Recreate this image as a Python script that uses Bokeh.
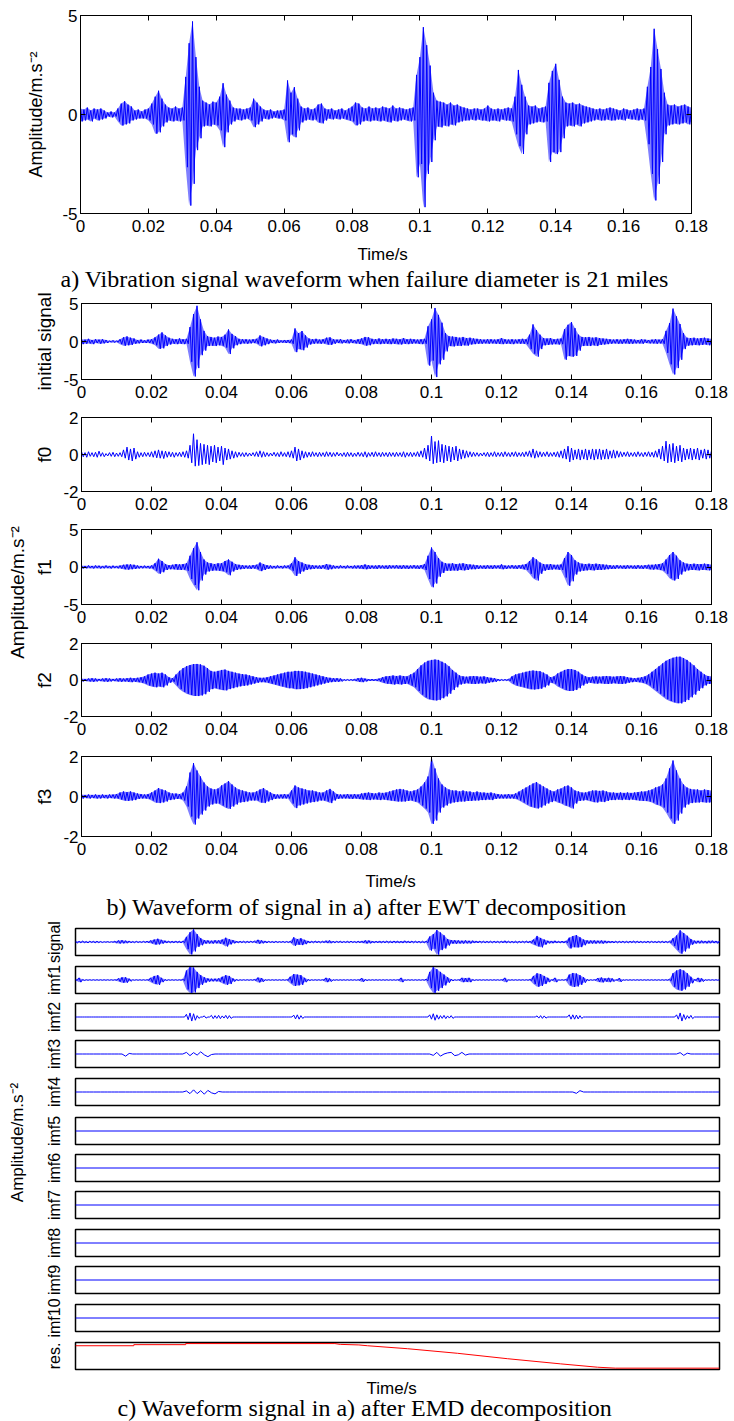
import math
from bokeh.plotting import figure
from bokeh.models import LinearAxis, FixedTicker, Range1d, ColumnDataSource
from bokeh.layouts import column, row
from bokeh.core.properties import value
from bokeh.embed import file_html
from bokeh.resources import INLINE

# ---------------- data (1 ms sample grid) ----------------
T_MS = list(range(181))
X_TICKS = [0, 0.02, 0.04, 0.06, 0.08, 0.1, 0.12, 0.14, 0.16, 0.18]
X_TICK_LABELS = ["0", "0.02", "0.04", "0.06", "0.08", "0.1", "0.12", "0.14", "0.16", "0.18"]

# original vibration signal: upper / lower envelope per 1 ms
sig_hi = [0.3, 0.25, 0.35, 0.2, 0.3, 0.25, 0.3, 0.2, 0.1, 0.15,
          0.1, 0.3, 0.55, 0.67, 0.5, 0.4, 0.2, 0.25, 0.15, 0.25,
          0.3, 0.55, 0.9, 1.2, 0.8, 0.5, 0.35, 0.3, 0.4, 0.3,
          0.35, 1.9, 3.6, 4.7, 2.9, 1.4, 0.7, 0.6, 0.5, 0.65,
          0.6, 0.9, 1.58, 1.0, 0.7, 0.35, 0.3, 0.3, 0.25, 0.3,
          0.35, 0.8, 0.6, 0.4, 0.25, 0.2, 0.25, 0.15, 0.2, 0.2,
          0.25, 1.72, 1.1, 1.38, 0.8, 0.4, 0.3, 0.35, 0.25, 0.3,
          0.5, 0.55, 0.3, 0.25, 0.3, 0.2, 0.25, 0.3, 0.2, 0.3,
          0.4, 0.6, 0.55, 0.35, 0.3, 0.4, 0.3, 0.35, 0.3, 0.4,
          0.35, 0.3, 0.45, 0.3, 0.35, 0.3, 0.25, 0.3, 0.35, 2.0,
          2.9, 4.41, 3.5, 2.47, 1.1, 0.7, 0.65, 0.6, 0.5, 0.6,
          0.45, 0.5, 0.4, 0.35, 0.3, 0.25, 0.3, 0.3, 0.25, 0.3,
          0.45, 0.3, 0.25, 0.3, 0.25, 0.3, 0.35, 0.3, 0.9, 2.25,
          1.5, 0.9, 0.45, 0.4, 0.45, 0.3, 0.35, 0.4, 1.6, 2.2,
          2.56, 1.75, 0.9, 0.6, 0.55, 0.6, 0.5, 0.55, 0.45, 0.4,
          0.35, 0.3, 0.25, 0.3, 0.25, 0.3, 0.35, 0.3, 0.25, 0.2,
          0.3, 0.25, 0.2, 0.25, 0.3, 0.25, 0.3, 1.4, 2.4, 4.33,
          3.3, 2.3, 1.1, 0.5, 0.45, 0.5, 0.4, 0.45, 0.5, 0.4,
          0.35]
sig_lo = [-0.35, -0.3, -0.25, -0.35, -0.2, -0.3, -0.25, -0.2, -0.1, -0.15,
          -0.1, -0.35, -0.56, -0.5, -0.45, -0.3, -0.25, -0.2, -0.2, -0.2,
          -0.3, -0.5, -0.97, -0.9, -0.6, -0.4, -0.3, -0.35, -0.3, -0.35,
          -0.3, -2.66, -4.6, -3.5, -1.8, -1.2, -0.6, -0.55, -0.6, -0.5,
          -0.55, -0.8, -1.65, -0.9, -0.5, -0.35, -0.25, -0.3, -0.25, -0.2,
          -0.3, -0.64, -0.5, -0.35, -0.2, -0.25, -0.2, -0.15, -0.2, -0.2,
          -0.3, -1.4, -1.0, -1.15, -0.8, -0.4, -0.3, -0.25, -0.3, -0.25,
          -0.4, -0.45, -0.3, -0.2, -0.25, -0.2, -0.25, -0.2, -0.25, -0.3,
          -0.35, -0.55, -0.5, -0.35, -0.3, -0.35, -0.3, -0.3, -0.35, -0.3,
          -0.35, -0.4, -0.3, -0.35, -0.3, -0.25, -0.3, -0.35, -0.3, -3.17,
          -2.5, -4.68, -3.0, -2.4, -1.3, -0.6, -0.65, -0.55, -0.6, -0.5,
          -0.55, -0.4, -0.35, -0.3, -0.3, -0.25, -0.3, -0.25, -0.3, -0.3,
          -0.35, -0.3, -0.3, -0.35, -0.25, -0.3, -0.3, -0.35, -1.0, -1.6,
          -1.99, -1.0, -0.5, -0.45, -0.4, -0.35, -0.4, -0.35, -2.4, -1.9,
          -2.0, -1.9, -1.2, -0.6, -0.55, -0.6, -0.5, -0.6, -0.45, -0.4,
          -0.35, -0.3, -0.25, -0.3, -0.3, -0.25, -0.3, -0.3, -0.25, -0.25,
          -0.3, -0.2, -0.25, -0.25, -0.3, -0.25, -0.3, -1.5, -3.0, -4.34,
          -3.5, -2.4, -1.0, -0.55, -0.5, -0.45, -0.5, -0.45, -0.4, -0.5,
          -0.35]

# EWT component f0
f0_hi = [0.15, 0.1, 0.15, 0.1, 0.12, 0.18, 0.1, 0.05, 0.1, 0.12,
         0.08, 0.1, 0.25, 0.4, 0.3, 0.35, 0.15, 0.1, 0.12, 0.1,
         0.15, 0.2, 0.25, 0.2, 0.18, 0.15, 0.12, 0.1, 0.12, 0.15,
         0.2, 0.5, 1.12, 0.8, 0.6, 0.55, 0.5, 0.45, 0.5, 0.4,
         0.45, 0.35, 0.3, 0.2, 0.15, 0.12, 0.1, 0.1, 0.08, 0.1,
         0.15, 0.2, 0.15, 0.1, 0.08, 0.12, 0.1, 0.15, 0.1, 0.15,
         0.2, 0.4, 0.3, 0.2, 0.15, 0.12, 0.15, 0.1, 0.12, 0.1,
         0.15, 0.12, 0.1, 0.12, 0.08, 0.1, 0.12, 0.1, 0.08, 0.12,
         0.1, 0.15, 0.1, 0.12, 0.15, 0.1, 0.12, 0.1, 0.12, 0.1,
         0.12, 0.1, 0.15, 0.1, 0.12, 0.1, 0.15, 0.2, 0.35, 0.5,
         1.0, 0.7, 0.75, 0.55, 0.5, 0.45, 0.4, 0.45, 0.3, 0.25,
         0.2, 0.15, 0.12, 0.1, 0.08, 0.1, 0.12, 0.1, 0.15, 0.1,
         0.12, 0.15, 0.1, 0.12, 0.15, 0.1, 0.12, 0.15, 0.2, 0.3,
         0.2, 0.15, 0.12, 0.15, 0.1, 0.12, 0.15, 0.2, 0.3, 0.45,
         0.35, 0.25, 0.3, 0.25, 0.3, 0.25, 0.3, 0.28, 0.3, 0.25,
         0.3, 0.2, 0.25, 0.2, 0.15, 0.12, 0.15, 0.1, 0.12, 0.15,
         0.1, 0.12, 0.15, 0.12, 0.2, 0.3, 0.45, 0.72, 0.55, 0.6,
         0.45, 0.5, 0.35, 0.3, 0.35, 0.3, 0.35, 0.25, 0.3, 0.25,
         0.2]
f0_lo = [-0.12, -0.15, -0.1, -0.12, -0.15, -0.1, -0.12, -0.08, -0.1, -0.12,
         -0.1, -0.12, -0.2, -0.3, -0.35, -0.25, -0.15, -0.12, -0.1, -0.12,
         -0.15, -0.18, -0.2, -0.22, -0.15, -0.12, -0.15, -0.1, -0.12, -0.15,
         -0.2, -0.45, -0.63, -0.6, -0.55, -0.5, -0.55, -0.4, -0.45, -0.35,
         -0.55, -0.3, -0.25, -0.2, -0.15, -0.1, -0.12, -0.1, -0.08, -0.1,
         -0.12, -0.15, -0.12, -0.1, -0.08, -0.1, -0.12, -0.1, -0.12, -0.15,
         -0.2, -0.35, -0.3, -0.2, -0.15, -0.12, -0.1, -0.12, -0.1, -0.12,
         -0.1, -0.12, -0.1, -0.08, -0.1, -0.12, -0.1, -0.12, -0.1, -0.1,
         -0.12, -0.15, -0.1, -0.12, -0.1, -0.12, -0.1, -0.12, -0.1, -0.12,
         -0.1, -0.12, -0.15, -0.1, -0.12, -0.1, -0.12, -0.15, -0.25, -0.35,
         -0.5, -0.45, -0.4, -0.45, -0.35, -0.4, -0.3, -0.35, -0.25, -0.2,
         -0.15, -0.12, -0.1, -0.1, -0.08, -0.1, -0.12, -0.1, -0.12, -0.1,
         -0.12, -0.1, -0.12, -0.1, -0.12, -0.1, -0.12, -0.1, -0.15, -0.2,
         -0.15, -0.12, -0.1, -0.12, -0.1, -0.12, -0.15, -0.2, -0.25, -0.4,
         -0.3, -0.25, -0.3, -0.25, -0.3, -0.25, -0.3, -0.25, -0.28, -0.25,
         -0.25, -0.2, -0.2, -0.15, -0.12, -0.1, -0.12, -0.1, -0.12, -0.1,
         -0.12, -0.1, -0.12, -0.15, -0.15, -0.25, -0.35, -0.45, -0.4, -0.45,
         -0.35, -0.4, -0.3, -0.25, -0.3, -0.25, -0.3, -0.2, -0.25, -0.2,
         -0.15]

# EWT component f1
f1_hi = [0.2, 0.15, 0.2, 0.15, 0.2, 0.18, 0.15, 0.2, 0.15, 0.18,
         0.15, 0.2, 0.3, 0.35, 0.35, 0.3, 0.2, 0.15, 0.18, 0.15,
         0.2, 0.5, 1.1, 0.8, 0.4, 0.25, 0.3, 0.4, 0.35, 0.4,
         0.5, 1.5, 2.5, 3.3, 2.0, 1.0, 0.6, 0.5, 0.4, 0.5,
         0.5, 0.8, 1.0, 0.7, 0.4, 0.3, 0.25, 0.2, 0.2, 0.25,
         0.3, 0.6, 0.4, 0.25, 0.2, 0.15, 0.2, 0.15, 0.2, 0.2,
         0.5, 1.3, 0.8, 0.6, 0.4, 0.3, 0.25, 0.2, 0.2, 0.25,
         0.4, 0.3, 0.2, 0.15, 0.2, 0.15, 0.2, 0.15, 0.2, 0.2,
         0.25, 0.35, 0.25, 0.2, 0.2, 0.25, 0.2, 0.2, 0.25, 0.2,
         0.25, 0.2, 0.25, 0.2, 0.2, 0.25, 0.2, 0.25, 0.4, 1.5,
         2.6, 2.0, 1.2, 0.7, 0.5, 0.45, 0.5, 0.4, 0.45, 0.5,
         0.4, 0.35, 0.3, 0.25, 0.2, 0.2, 0.25, 0.2, 0.25, 0.2,
         0.35, 0.2, 0.2, 0.25, 0.2, 0.25, 0.3, 0.4, 0.8, 1.3,
         1.0, 0.6, 0.4, 0.35, 0.4, 0.3, 0.3, 0.35, 1.2, 2.0,
         1.6, 0.9, 0.6, 0.45, 0.4, 0.45, 0.4, 0.45, 0.4, 0.35,
         0.3, 0.25, 0.2, 0.25, 0.2, 0.2, 0.25, 0.2, 0.2, 0.25,
         0.2, 0.25, 0.3, 0.3, 0.35, 0.4, 0.5, 1.0, 1.6, 2.0,
         1.5, 0.9, 0.6, 0.45, 0.4, 0.45, 0.4, 0.4, 0.45, 0.4,
         0.35]
f1_lo = [-0.2, -0.18, -0.15, -0.2, -0.15, -0.2, -0.18, -0.15, -0.2, -0.15,
         -0.18, -0.2, -0.3, -0.35, -0.3, -0.25, -0.2, -0.18, -0.15, -0.2,
         -0.2, -0.5, -0.9, -0.7, -0.4, -0.3, -0.3, -0.35, -0.4, -0.35,
         -0.5, -1.6, -2.4, -3.1, -1.8, -1.0, -0.6, -0.5, -0.45, -0.5,
         -0.55, -0.7, -1.1, -0.6, -0.4, -0.3, -0.25, -0.2, -0.25, -0.2,
         -0.3, -0.55, -0.4, -0.25, -0.2, -0.2, -0.15, -0.2, -0.15, -0.2,
         -0.5, -1.2, -0.9, -0.6, -0.4, -0.3, -0.25, -0.2, -0.25, -0.2,
         -0.35, -0.3, -0.2, -0.2, -0.15, -0.2, -0.15, -0.2, -0.2, -0.2,
         -0.25, -0.3, -0.25, -0.2, -0.25, -0.2, -0.2, -0.25, -0.2, -0.2,
         -0.2, -0.25, -0.2, -0.25, -0.2, -0.2, -0.25, -0.2, -0.4, -1.6,
         -2.7, -2.2, -1.3, -0.8, -0.5, -0.5, -0.45, -0.5, -0.4, -0.45,
         -0.4, -0.3, -0.3, -0.25, -0.2, -0.25, -0.2, -0.25, -0.2, -0.2,
         -0.3, -0.25, -0.2, -0.2, -0.25, -0.2, -0.3, -0.4, -0.9, -1.5,
         -1.8, -0.9, -0.5, -0.4, -0.35, -0.3, -0.35, -0.4, -1.4, -2.5,
         -1.9, -1.0, -0.6, -0.5, -0.45, -0.4, -0.45, -0.4, -0.4, -0.35,
         -0.3, -0.25, -0.25, -0.2, -0.2, -0.25, -0.2, -0.2, -0.25, -0.2,
         -0.25, -0.2, -0.3, -0.35, -0.3, -0.4, -0.5, -0.9, -1.5, -1.8,
         -1.6, -1.0, -0.6, -0.45, -0.4, -0.4, -0.45, -0.4, -0.4, -0.45,
         -0.35]

# EWT component f2 (symmetric envelope)
f2_amp = [0.08, 0.06, 0.08, 0.1, 0.08, 0.06, 0.08, 0.1, 0.08, 0.06,
          0.08, 0.1, 0.08, 0.1, 0.12, 0.1, 0.12, 0.15, 0.2, 0.3,
          0.35, 0.4, 0.35, 0.4, 0.3, 0.15, 0.1, 0.3, 0.5, 0.65,
          0.75, 0.82, 0.87, 0.88, 0.85, 0.78, 0.65, 0.5, 0.45, 0.5,
          0.55, 0.57, 0.5, 0.45, 0.4, 0.35, 0.32, 0.3, 0.25, 0.2,
          0.15, 0.12, 0.12, 0.15, 0.2, 0.25, 0.3, 0.35, 0.4, 0.45,
          0.45, 0.5, 0.5, 0.48, 0.45, 0.4, 0.35, 0.3, 0.25, 0.2,
          0.15, 0.12, 0.1, 0.1, 0.08, 0.03, 0.03, 0.03, 0.05, 0.1,
          0.12, 0.08, 0.05, 0.05, 0.05, 0.08, 0.15, 0.2, 0.22, 0.25,
          0.22, 0.25, 0.22, 0.2, 0.3, 0.4, 0.6, 0.8, 0.95, 1.05,
          1.1, 1.12, 1.1, 1.0, 0.9, 0.75, 0.55, 0.4, 0.25, 0.2,
          0.18, 0.2, 0.22, 0.2, 0.18, 0.2, 0.15, 0.12, 0.1, 0.05,
          0.03, 0.03, 0.05, 0.2, 0.3, 0.35, 0.4, 0.45, 0.5, 0.52,
          0.5, 0.48, 0.4, 0.3, 0.15, 0.2, 0.35, 0.45, 0.55, 0.6,
          0.6, 0.55, 0.45, 0.3, 0.2, 0.15, 0.18, 0.2, 0.18, 0.2,
          0.22, 0.2, 0.18, 0.2, 0.22, 0.2, 0.15, 0.12, 0.1, 0.12,
          0.15, 0.2, 0.3, 0.45, 0.6, 0.75, 0.9, 1.05, 1.15, 1.22,
          1.27, 1.28, 1.2, 1.1, 0.95, 0.8, 0.6, 0.45, 0.3, 0.22,
          0.2]

# EWT component f3
f3_hi = [0.1, 0.08, 0.1, 0.08, 0.1, 0.08, 0.1, 0.08, 0.1, 0.1,
         0.12, 0.2, 0.25, 0.22, 0.25, 0.2, 0.15, 0.12, 0.1, 0.12,
         0.2, 0.3, 0.42, 0.35, 0.3, 0.2, 0.15, 0.15, 0.12, 0.2,
         0.5, 1.2, 1.67, 1.3, 1.0, 0.7, 0.5, 0.4, 0.35, 0.4,
         0.55, 0.65, 0.77, 0.6, 0.45, 0.35, 0.3, 0.25, 0.2, 0.2,
         0.25, 0.35, 0.42, 0.3, 0.2, 0.12, 0.1, 0.1, 0.12, 0.1,
         0.3, 0.55, 0.45, 0.4, 0.35, 0.3, 0.3, 0.25, 0.2, 0.2,
         0.3, 0.38, 0.25, 0.12, 0.1, 0.1, 0.12, 0.1, 0.12, 0.1,
         0.15, 0.18, 0.2, 0.17, 0.15, 0.2, 0.18, 0.2, 0.25, 0.3,
         0.35, 0.38, 0.35, 0.3, 0.25, 0.3, 0.35, 0.5, 0.7, 1.0,
         1.97, 1.4, 0.9, 0.6, 0.45, 0.35, 0.3, 0.3, 0.25, 0.3,
         0.25, 0.25, 0.2, 0.25, 0.2, 0.2, 0.18, 0.2, 0.15, 0.12,
         0.1, 0.1, 0.12, 0.1, 0.15, 0.25, 0.35, 0.45, 0.55, 0.65,
         0.72, 0.6, 0.5, 0.4, 0.3, 0.25, 0.35, 0.4, 0.5, 0.55,
         0.45, 0.3, 0.25, 0.2, 0.2, 0.25, 0.3, 0.3, 0.28, 0.3,
         0.25, 0.2, 0.2, 0.18, 0.2, 0.18, 0.2, 0.18, 0.2, 0.22,
         0.25, 0.25, 0.3, 0.35, 0.45, 0.5, 0.6, 0.9, 1.4, 1.8,
         1.3, 0.9, 0.6, 0.45, 0.38, 0.35, 0.35, 0.3, 0.35, 0.32,
         0.3]
f3_lo = [-0.1, -0.08, -0.1, -0.08, -0.1, -0.1, -0.08, -0.1, -0.08, -0.1,
         -0.1, -0.15, -0.2, -0.22, -0.2, -0.18, -0.12, -0.1, -0.1, -0.12,
         -0.2, -0.3, -0.33, -0.3, -0.25, -0.18, -0.15, -0.12, -0.12, -0.2,
         -0.5, -1.0, -1.4, -1.1, -0.9, -0.7, -0.5, -0.4, -0.35, -0.35,
         -0.45, -0.55, -0.62, -0.5, -0.4, -0.3, -0.28, -0.25, -0.2, -0.2,
         -0.2, -0.3, -0.33, -0.25, -0.18, -0.12, -0.1, -0.1, -0.1, -0.1,
         -0.35, -0.58, -0.45, -0.4, -0.35, -0.3, -0.28, -0.25, -0.2, -0.2,
         -0.25, -0.33, -0.2, -0.12, -0.1, -0.1, -0.1, -0.12, -0.1, -0.12,
         -0.15, -0.15, -0.18, -0.15, -0.15, -0.18, -0.15, -0.18, -0.2, -0.22,
         -0.25, -0.25, -0.25, -0.22, -0.2, -0.25, -0.3, -0.45, -0.6, -0.8,
         -1.37, -1.2, -0.8, -0.55, -0.45, -0.35, -0.3, -0.28, -0.25, -0.25,
         -0.22, -0.22, -0.2, -0.2, -0.18, -0.18, -0.15, -0.18, -0.12, -0.1,
         -0.1, -0.1, -0.1, -0.1, -0.12, -0.2, -0.3, -0.4, -0.5, -0.55,
         -0.6, -0.55, -0.45, -0.35, -0.28, -0.22, -0.3, -0.35, -0.45, -0.5,
         -0.6, -0.35, -0.22, -0.2, -0.18, -0.22, -0.28, -0.3, -0.25, -0.28,
         -0.22, -0.18, -0.18, -0.15, -0.18, -0.15, -0.18, -0.15, -0.18, -0.2,
         -0.22, -0.22, -0.25, -0.3, -0.4, -0.45, -0.55, -0.8, -1.1, -1.37,
         -1.2, -0.85, -0.55, -0.4, -0.33, -0.3, -0.3, -0.28, -0.3, -0.3,
         -0.28]

# EMD components (panel c)
imf1_amp = [0.1, 0.8, 0.2, 0.1, 0.1, 0.1, 0.1, 0.1, 0.1, 0.1,
            0.1, 0.1, 0.6, 1.0, 1.0, 0.5, 0.1, 0.1, 0.1, 0.1,
            0.1, 0.8, 1.5, 1.8, 0.8, 0.2, 0.1, 0.1, 0.1, 0.1,
            0.3, 3.5, 4.8, 4.6, 3.0, 1.8, 1.0, 0.6, 0.5, 0.5,
            0.6, 1.2, 1.8, 1.5, 0.6, 0.2, 0.1, 0.1, 0.1, 0.1,
            0.2, 0.9, 0.7, 0.1, 0.1, 0.1, 0.1, 0.1, 0.1, 0.1,
            1.2, 2.2, 2.0, 1.8, 0.8, 0.2, 0.1, 0.1, 0.1, 0.1,
            0.8, 0.6, 0.1, 0.1, 0.1, 0.1, 0.1, 0.1, 0.1, 0.1,
            0.7, 0.2, 0.1, 0.1, 0.1, 0.1, 0.1, 0.1, 0.1, 0.1,
            0.1, 0.8, 0.1, 0.1, 0.1, 0.1, 0.1, 0.1, 0.3, 3.0,
            4.8, 4.0, 3.0, 2.0, 1.0, 0.3, 0.1, 0.1, 0.8, 0.7,
            0.8, 0.2, 0.1, 0.1, 0.1, 0.1, 0.1, 0.1, 0.1, 0.1,
            0.8, 0.1, 0.1, 0.1, 0.1, 0.1, 0.1, 0.2, 1.5, 2.5,
            2.2, 1.5, 0.8, 0.1, 0.8, 0.1, 0.1, 0.2, 2.0, 2.6,
            2.4, 1.8, 1.0, 0.2, 0.1, 0.1, 0.7, 0.9, 0.6, 0.8,
            0.6, 0.1, 0.7, 0.1, 0.1, 0.1, 0.1, 0.1, 0.1, 0.1,
            0.1, 0.1, 0.1, 0.1, 0.1, 0.1, 0.3, 2.5, 3.5, 4.0,
            3.5, 2.5, 1.2, 0.2, 0.8, 0.6, 0.1, 0.1, 0.1, 0.1,
            0.1]
imf2_amp = [0, 0, 0, 0, 0, 0, 0, 0, 0, 0,
            0, 0, 0, 0, 0, 0, 0, 0, 0, 0,
            0, 0, 0, 0, 0, 0, 0, 0, 0, 0,
            0, 1.0, 1.5, 1.2, 0.5, 0, 0.4, 0, 0.6, 0.5,
            0.6, 0.4, 0.6, 0.5, 0, 0, 0, 0, 0, 0,
            0, 0, 0, 0, 0, 0, 0, 0, 0, 0,
            0, 0.7, 0.8, 0.5, 0, 0, 0, 0, 0, 0,
            0, 0, 0, 0, 0, 0, 0, 0, 0, 0,
            0, 0, 0, 0, 0, 0, 0, 0, 0, 0,
            0, 0, 0, 0, 0, 0, 0, 0, 0, 0.8,
            1.2, 0.8, 0.5, 0.6, 0.4, 0.5, 0, 0, 0, 0,
            0, 0, 0, 0, 0, 0, 0, 0, 0, 0,
            0, 0, 0, 0, 0, 0, 0, 0, 0, 0.4,
            0.5, 0.4, 0, 0, 0, 0, 0, 0, 0.8, 0.8,
            0.7, 0.5, 0, 0, 0, 0, 0, 0, 0, 0,
            0, 0, 0, 0, 0, 0, 0, 0, 0, 0,
            0, 0, 0, 0, 0, 0, 0, 0, 0.8, 1.5,
            0.9, 0.5, 0.6, 0, 0, 0, 0, 0, 0, 0,
            0]
imf3_val = [0, 0, 0, 0, 0, 0, 0, 0, 0, 0,
            0, 0, 0, 0, -0.8, 0.2, 0, 0, 0, 0,
            0, 0, 0, 0, 0, 0, 0, 0, 0, 0,
            0, 0.6, -0.6, 0.5, -0.4, 0.8, -0.3, -1.0, -0.2, 0,
            0, 0, 0, 0, 0, 0, 0, 0, 0, 0,
            0, 0, 0, 0, 0, 0, 0, 0, 0, 0,
            0, 0, 0, 0, 0, 0, 0, 0, 0, 0,
            0, 0, 0, 0, 0, 0, 0, 0, 0, 0,
            0, 0, 0, 0, 0, 0, 0, 0, 0, 0,
            0, 0, 0, 0, 0, 0, 0, 0, 0, 0,
            -0.5, 0.6, -0.8, 0.0, 0.4, 0.6, -0.6, -0.3, 0.6, -0.4,
            0, 0, 0, 0, 0, 0, 0, 0, 0, 0,
            0, 0, 0, 0, 0, 0, 0, 0, 0, 0,
            0, 0, 0, 0, 0, 0, 0, 0, 0, 0,
            0, 0, 0, 0, 0, 0, 0, 0, 0, 0,
            0, 0, 0, 0, 0, 0, 0, 0, 0, 0,
            0, 0, 0, 0, 0, 0, 0, 0, 0, 0.5,
            -0.5, 0.3, 0, 0, 0, 0, 0, 0, 0, 0,
            0]
imf4_val = [0, 0, 0, 0, 0, 0, 0, 0, 0, 0,
            0, 0, 0, 0, 0, 0, 0, 0, 0, 0,
            0, 0, 0, 0, 0, 0, 0, 0, 0, 0,
            0, 0.4, -0.6, 0.8, -0.6, 0.5, -0.8, 0.6, -0.3, -0.7,
            0.2, 0, 0, 0, 0, 0, 0, 0, 0, 0,
            0, 0, 0, 0, 0, 0, 0, 0, 0, 0,
            0, 0, 0, 0, 0, 0, 0, 0, 0, 0,
            0, 0, 0, 0, 0, 0, 0, 0, 0, 0,
            0, 0, 0, 0, 0, 0, 0, 0, 0, 0,
            0, 0, 0, 0, 0, 0, 0, 0, 0, 0,
            0, 0, 0, 0, 0, 0, 0, 0, 0, 0,
            0, 0, 0, 0, 0, 0, 0, 0, 0, 0,
            0, 0, 0, 0, 0, 0, 0, 0, 0, 0,
            0, 0, 0, 0, 0, 0, 0, 0, 0, 0,
            -0.5, 0.5, 0, 0, 0, 0, 0, 0, 0, 0,
            0, 0, 0, 0, 0, 0, 0, 0, 0, 0,
            0, 0, 0, 0, 0, 0, 0, 0, 0, 0,
            0, 0, 0, 0, 0, 0, 0, 0, 0, 0,
            0]
flat_t = [0.0, 0.18]
imf5_val = [0.0, 0.0]
imf6_val = [0.0, 0.0]
imf7_val = [0.0, 0.0]
imf8_val = [0.0, 0.0]
imf9_val = [0.0, 0.0]
imf10_val = [0.0, 0.0]
res_t_ms = [0, 16.3, 16.3, 30.8, 30.8, 72.5, 74, 79.2, 81.6, 92.8, 106.8, 120.7, 135.5, 145.9, 150.9, 180]
res_v = [0.88, 0.88, 0.92, 0.92, 0.96, 0.96, 0.93, 0.91, 0.88, 0.77, 0.60, 0.40, 0.21, 0.085, 0.05, 0.05]

b_names = ["initial signal", "f0", "f1", "f2", "f3"]
c_names = ["signal", "imf1", "imf2", "imf3", "imf4", "imf5", "imf6", "imf7", "imf8", "imf9", "imf10", "res."]

# ---------------- styling / helpers ----------------
BLUE = "#0000ff"
RED = "#ff0000"
SANS = "Liberation Sans"
SERIF = "Liberation Serif"
W = 734
T_S = [t / 1000.0 for t in T_MS]


def zigzag(hi, lo):
    xs, ys = [], []
    for t, h, l in zip(T_MS, hi, lo):
        xs.extend([t / 1000.0, (t + 0.5) / 1000.0])
        ys.extend([h, l])
    return xs, ys


def neg(a):
    return [-v for v in a]


def borders(p, left, right, top, bottom):
    p.min_border_left = left
    p.min_border_right = right
    p.min_border_top = top
    p.min_border_bottom = bottom


def style_axis(ax, show=True, size="17px", tick=5):
    ax.major_tick_in = tick
    ax.major_tick_out = 0
    ax.minor_tick_line_color = None
    ax.axis_line_color = "black"
    ax.major_tick_line_color = "black"
    ax.major_label_text_font = SANS
    ax.axis_label_text_font = SANS
    ax.axis_label_text_font_style = "normal"
    ax.axis_label_text_color = "black"
    if show:
        ax.major_label_text_color = "black"
        ax.major_label_text_font_size = size
    else:
        ax.major_label_text_color = None
        ax.major_label_text_font_size = "1px"
        ax.major_label_standoff = 0


def draw_wave(p, hi, lo, fill_alpha):
    if fill_alpha > 0:
        p.varea(x="t", y1="lo", y2="hi", source=ColumnDataSource(dict(t=T_S, lo=lo, hi=hi)),
                fill_color=BLUE, fill_alpha=fill_alpha)
    xs, ys = zigzag(hi, lo)
    p.line(x="x", y="y", source=ColumnDataSource(dict(x=xs, y=ys)), line_color=BLUE, line_width=1)


def wave_fig(width, height, left, right, top, bottom, ylim, yticks, ylabel, ylabel_size,
             ylabel_standoff, hi, lo, fill_alpha):
    p = figure(width=width, height=height, x_range=Range1d(0, 0.18), y_range=Range1d(-ylim, ylim),
               x_axis_type=None, y_axis_type=None, output_backend="svg", toolbar_location=None)
    borders(p, left, right, top, bottom)
    p.frame_align = False
    p.outline_line_color = "black"
    p.outline_line_width = 1
    p.background_fill_color = "white"
    p.border_fill_color = "white"
    xb = LinearAxis(ticker=FixedTicker(ticks=X_TICKS),
                    major_label_overrides=dict(zip(X_TICKS, X_TICK_LABELS)))
    style_axis(xb)
    xb.major_label_standoff = 6
    p.add_layout(xb, "below")
    xa = LinearAxis(ticker=FixedTicker(ticks=X_TICKS))
    style_axis(xa, show=False)
    p.add_layout(xa, "above")
    yl = LinearAxis(ticker=FixedTicker(ticks=yticks),
                    major_label_overrides={v: str(v) for v in yticks}, axis_label=ylabel)
    style_axis(yl)
    yl.major_label_standoff = 3
    yl.axis_label_text_font_size = ylabel_size
    yl.axis_label_standoff = ylabel_standoff
    p.add_layout(yl, "left")
    yr = LinearAxis(ticker=FixedTicker(ticks=yticks))
    style_axis(yr, show=False)
    p.add_layout(yr, "right")
    draw_wave(p, hi, lo, fill_alpha)
    return p


def text_fig(width, height, items):
    p = figure(width=width, height=height, x_range=Range1d(0, width), y_range=Range1d(0, height),
               x_axis_type=None, y_axis_type=None, output_backend="svg", toolbar_location=None)
    borders(p, 0, 0, 0, 0)
    p.frame_align = False
    p.outline_line_color = None
    p.background_fill_color = "white"
    p.border_fill_color = "white"
    for (x, y_top, txt, font, size, angle, align, baseline) in items:
        p.text(x=[x], y=[height - y_top], text=[txt], angle=angle, text_align=align,
               text_baseline=baseline, text_font=value(font), text_font_size=size,
               text_color="black")
    return p


UNIT = "Amplitude/m.s\u207b\u00b2"

# ---------------- panel a ----------------
figA = wave_fig(W, 239, 80, 43, 15, 26, 5, [-5, 0, 5], UNIT, "18px", 13, sig_hi, sig_lo, 0.5)
capA = text_fig(W, 53, [
    (357, 15, "Time/s", SANS, "17px", 0, "left", "alphabetic"),
    (60, 39, "a) Vibration signal waveform when failure diameter is 21 miles", SERIF, "24px", 0, "left", "alphabetic"),
])

# ---------------- panel b ----------------
b_specs = [  # (height, top, bottom, ylim, ticks, hi, lo, fill)
    (117, 11, 30, 5, [-5, 0, 5], sig_hi, sig_lo, 0.5),
    (112, 8, 30, 2, [-2, 0, 2], f0_hi, f0_lo, 0.0),
    (113, 8, 30, 5, [-5, 0, 5], f1_hi, f1_lo, 0.5),
    (112, 9, 30, 2, [-2, 0, 2], f2_amp, neg(f2_amp), 0.55),
    (116, 10, 26, 2, [-2, 0, 2], f3_hi, f3_lo, 0.5),
]
b_figs = []
for name, (h, tp, bt, yl, tk, hi, lo, fa) in zip(b_names, b_specs):
    b_figs.append(wave_fig(W - 30, h, 51, 23, tp, bt, yl, tk, name, "19px", 5, hi, lo, fa))
stripB = text_fig(30, sum(s[0] for s in b_specs), [
    (17, 300, UNIT, SANS, "19px", math.pi / 2, "center", "middle"),
])
capB = text_fig(W, 59, [
    (365, 19, "Time/s", SANS, "17px", 0, "left", "alphabetic"),
    (106, 44, "b) Waveform of signal in a) after EWT decomposition", SERIF, "24px", 0, "left", "alphabetic"),
])

# ---------------- panel c ----------------
c_series = [  # (xy, envelope, yrange, colour)
    (zigzag(sig_hi, sig_lo), (sig_hi, sig_lo), (-5, 5), BLUE),
    (zigzag(imf1_amp, neg(imf1_amp)), (imf1_amp, neg(imf1_amp)), (-5, 5), BLUE),
    (zigzag(imf2_amp, neg(imf2_amp)), None, (-5, 5), BLUE),
    ((T_S, imf3_val), None, (-5, 5), BLUE),
    ((T_S, imf4_val), None, (-5, 5), BLUE),
    ((flat_t, imf5_val), None, (-1, 1), BLUE),
    ((flat_t, imf6_val), None, (-1, 1), BLUE),
    ((flat_t, imf7_val), None, (-1, 1), BLUE),
    ((flat_t, imf8_val), None, (-1, 1), BLUE),
    ((flat_t, imf9_val), None, (-1, 1), BLUE),
    ((flat_t, imf10_val), None, (-1, 1), BLUE),
    (([t / 1000.0 for t in res_t_ms], res_v), None, (0, 1), RED),
]
c_tops = [7, 6, 5, 5, 6, 6, 5, 5, 6, 5, 6, 6]
c_heights = [39, 38, 37, 37, 39, 38, 37, 37, 38, 37, 38, 38]
FRAME_C = 27
c_figs = []
label_items = []
y0 = 0
for (xy, env, yr, col), tp, h, name in zip(c_series, c_tops, c_heights, c_names):
    p = figure(width=W - 70, height=h, x_range=Range1d(0, 0.18), y_range=Range1d(*yr),
               x_axis_type=None, y_axis_type=None, output_backend="svg", toolbar_location=None)
    borders(p, 5, 15, tp, h - tp - FRAME_C)
    p.frame_align = False
    p.outline_line_color = "black"
    p.outline_line_width = 1.5
    p.background_fill_color = "white"
    p.border_fill_color = "white"
    if env is not None:
        p.varea(x="t", y1="lo", y2="hi", source=ColumnDataSource(dict(t=T_S, lo=env[1], hi=env[0])),
                fill_color=col, fill_alpha=0.5)
    p.line(x="x", y="y", source=ColumnDataSource(dict(x=xy[0], y=xy[1])), line_color=col, line_width=1)
    c_figs.append(p)
    label_items.append((54, y0 + tp + FRAME_C / 2.0, name, SANS, "16px", math.pi / 2, "center", "middle"))
    y0 += h
label_items.append((17, 221, UNIT, SANS, "17px", math.pi / 2, "center", "middle"))
stripC = text_fig(70, sum(c_heights), label_items)
capC = text_fig(W, 47, [
    (366, 14, "Time/s", SANS, "17px", 0, "left", "alphabetic"),
    (117, 33, "c) Waveform signal in a) after EMD decomposition", SERIF, "24px", 0, "left", "alphabetic"),
])

layout = column(
    figA, capA,
    row(stripB, column(*b_figs)),
    capB,
    row(stripC, column(*c_figs)),
    capC,
)

open("out.html", "w").write(file_html(layout, INLINE))
